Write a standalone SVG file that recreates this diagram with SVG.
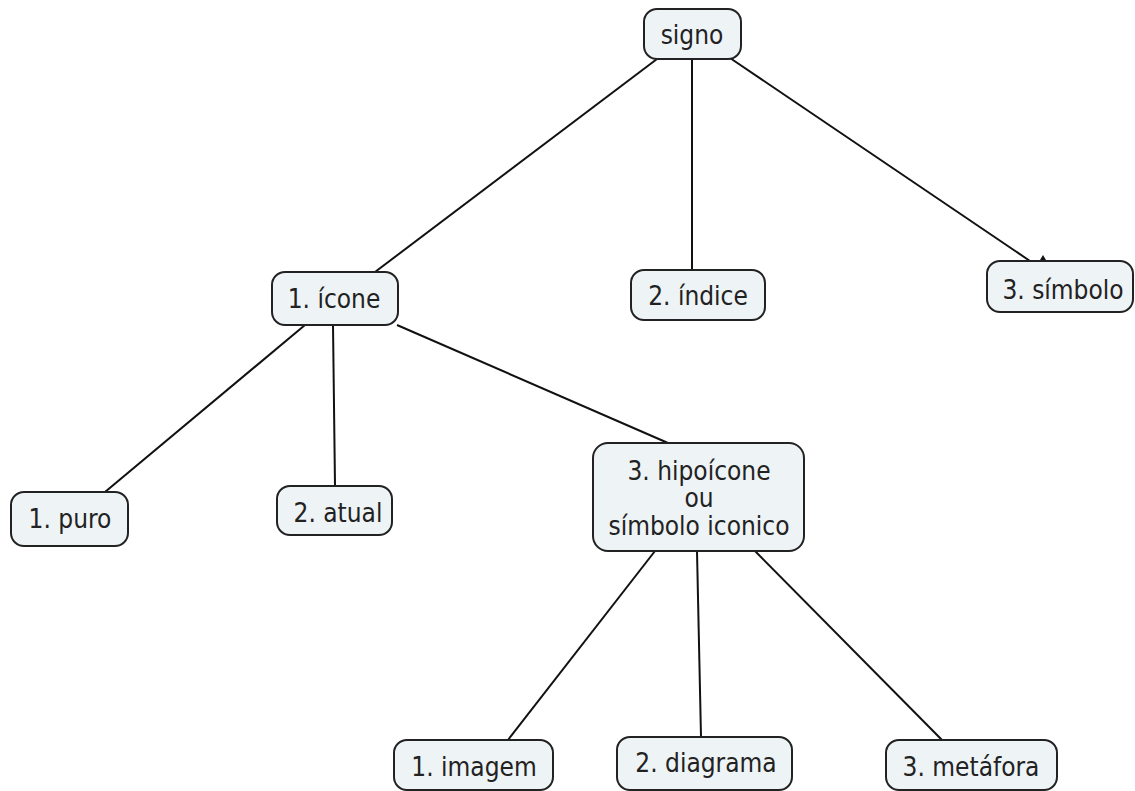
<svg xmlns="http://www.w3.org/2000/svg" width="1135" height="791" viewBox="0 0 1135 791">
<style>
.n{fill:#eef3f6;stroke:#222;stroke-width:2}
.t{font-family:"DejaVu Sans Condensed","DejaVu Sans",Verdana,sans-serif;font-size:26px;fill:#222;text-anchor:middle}
.c line{stroke:#111;stroke-width:2}
</style>
<rect width="1135" height="791" fill="#fff"/>
<g class="c" id="connectors">
<line x1="657" y1="59" x2="375" y2="272"/>
<line x1="692" y1="59" x2="692" y2="270"/>
<line x1="730" y1="58" x2="1030" y2="261"/>
<polygon points="1040,260 1043,255 1046,260" fill="#111"/>
<line x1="305" y1="325" x2="105" y2="492"/>
<line x1="333" y1="325" x2="335" y2="486"/>
<line x1="397" y1="325" x2="668" y2="443"/>
<line x1="655" y1="551" x2="508" y2="740"/>
<line x1="697" y1="551" x2="701" y2="737"/>
<line x1="755" y1="551" x2="942" y2="740"/>
</g>
<g id="signo"><rect class="n" x="644" y="9" width="97" height="50" rx="13"/><text class="t" x="692" y="44">signo</text></g>
<g id="icone"><rect class="n" x="272" y="272" width="126" height="53" rx="13"/><text class="t" x="334" y="308">1. ícone</text></g>
<g id="indice"><rect class="n" x="631" y="270" width="134" height="50" rx="13"/><text class="t" x="698" y="305">2. índice</text></g>
<g id="simbolo"><rect class="n" x="987" y="261" width="146" height="51" rx="13"/><text class="t" x="1063" y="299">3. símbolo</text></g>
<g id="hipoicone"><rect class="n" x="593" y="443" width="211" height="108" rx="15"/><text class="t" x="699" y="480">3. hipoícone</text><text class="t" x="699" y="507">ou</text><text class="t" x="699" y="535">símbolo iconico</text></g>
<g id="puro"><rect class="n" x="11" y="492" width="117" height="54" rx="13"/><text class="t" x="70" y="528">1. puro</text></g>
<g id="atual"><rect class="n" x="277" y="486" width="115" height="49" rx="13"/><text class="t" x="338" y="522">2. atual</text></g>
<g id="imagem"><rect class="n" x="394" y="740" width="159" height="50" rx="13"/><text class="t" x="474" y="776">1. imagem</text></g>
<g id="diagrama"><rect class="n" x="617" y="737" width="175" height="53" rx="13"/><text class="t" x="706" y="772">2. diagrama</text></g>
<g id="metafora"><rect class="n" x="886" y="740" width="171" height="50" rx="13"/><text class="t" x="971" y="776">3. metáfora</text></g>
</svg>
